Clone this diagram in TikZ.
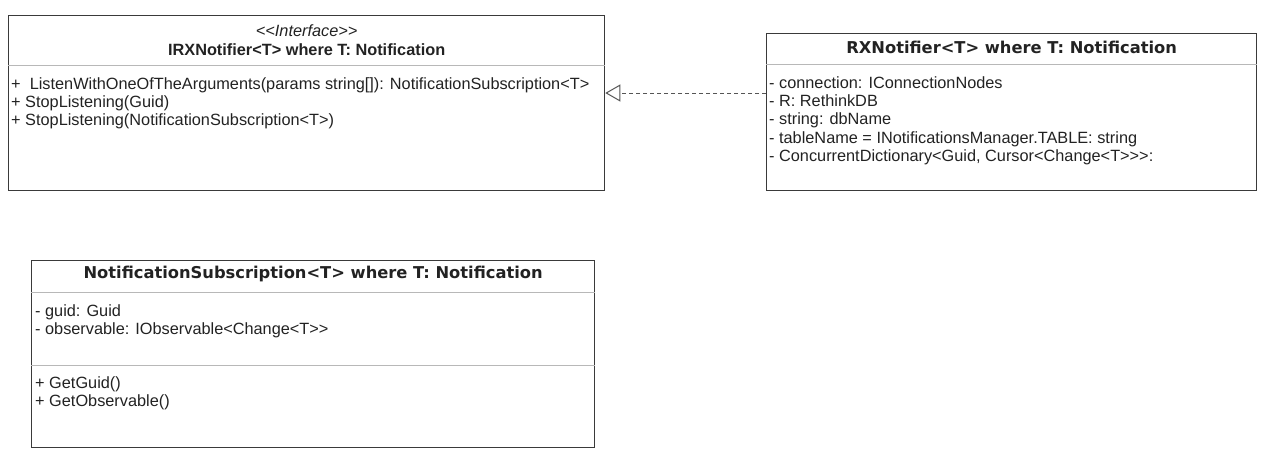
\documentclass[tikz,border=0pt]{standalone}
\usepackage{fontspec}
\setmainfont{Liberation Sans}
\newfontfamily\headfont{DejaVu Sans}
\usepackage{xcolor}
\usepackage{tikz}
\usetikzlibrary{arrows.meta, positioning}
\definecolor{boxgray}{HTML}{3A3A3A}
\definecolor{sepgray}{HTML}{B8B8B8}
\definecolor{txtgray}{HTML}{222222}
\definecolor{linkgray}{HTML}{555555}
\newcommand{\umlsize}{\fontsize{16.3pt}{18.4pt}\selectfont}
\begin{document}
\begin{tikzpicture}[
  x=1pt, y=1pt,
  umlbox/.style={rectangle, draw=boxgray, line width=1.3pt, inner sep=0pt, anchor=north west},
  sepline/.style={draw=sepgray, line width=1pt},
  head/.style={inner sep=0pt, align=center, text=txtgray, font=\umlsize},
  members/.style={anchor=north west, inner sep=0pt, align=left, text=txtgray, font=\umlsize},
  realize/.style={draw=linkgray, line width=1pt, dash pattern=on 4pt off 3pt, -{Triangle[open, length=15pt, width=17pt]}}
]
  \useasboundingbox (0,0) rectangle (1270,-458);

  \node[umlbox, minimum width=596pt, minimum height=175pt] (irx) at (8,-15) {};
  \path (irx.north west) ++(0,-50) coordinate (irxsep);
  \draw[sepline] (irxsep) -- (irxsep -| irx.east);
  \path (irx.north) ++(0,-25) node[head] (irxname) {{\itshape <{}<Interface>{}>}\\{\bfseries IRXNotifier<T> where T: Notification}};
  \path (irxsep) ++(3,-12) node[members] (irxops) {+\ \ ListenWithOneOfTheArguments(params string[]): NotificationSubscription<T>\\+ StopListening(Guid)\\+ StopListening(NotificationSubscription<T>)};

  \node[umlbox, minimum width=490pt, minimum height=157pt] (rx) at (766,-33) {};
  \path (rx.north west) ++(0,-31) coordinate (rxsep);
  \draw[sepline] (rxsep) -- (rxsep -| rx.east);
  \path (rx.north) ++(0,-14) node[head] (rxname) {\headfont\bfseries RXNotifier<T> where T: Notification};
  \path (rxsep) ++(3,-12) node[members] (rxattrs) {- connection: IConnectionNodes\\- R: RethinkDB\\- string: dbName\\- tableName = INotificationsManager.TABLE: string\\- ConcurrentDictionary<Guid, Cursor<Change<T>{}>{}>:};

  \node[umlbox, minimum width=563pt, minimum height=187pt] (sub) at (31,-260) {};
  \path (sub.north west) ++(0,-32) coordinate (subsep);
  \path (sub.north west) ++(0,-105) coordinate (subsepb);
  \draw[sepline] (subsep) -- (subsep -| sub.east);
  \draw[sepline] (subsepb) -- (subsepb -| sub.east);
  \path (sub.north) ++(0,-14) node[head] (subname) {\headfont\bfseries NotificationSubscription<T> where T: Notification};
  \path (subsep) ++(4,-12) node[members] (subattrs) {- guid: Guid\\- observable: IObservable<Change<T>{}>};
  \path (subsepb) ++(4,-11) node[members] (subops) {+ GetGuid()\\+ GetObservable()};

  \path (rx.north west) ++(0,-60) coordinate (rxport);
  \draw[realize] (rxport) -- (rxport -| irx.east);
\end{tikzpicture}
\end{document}
